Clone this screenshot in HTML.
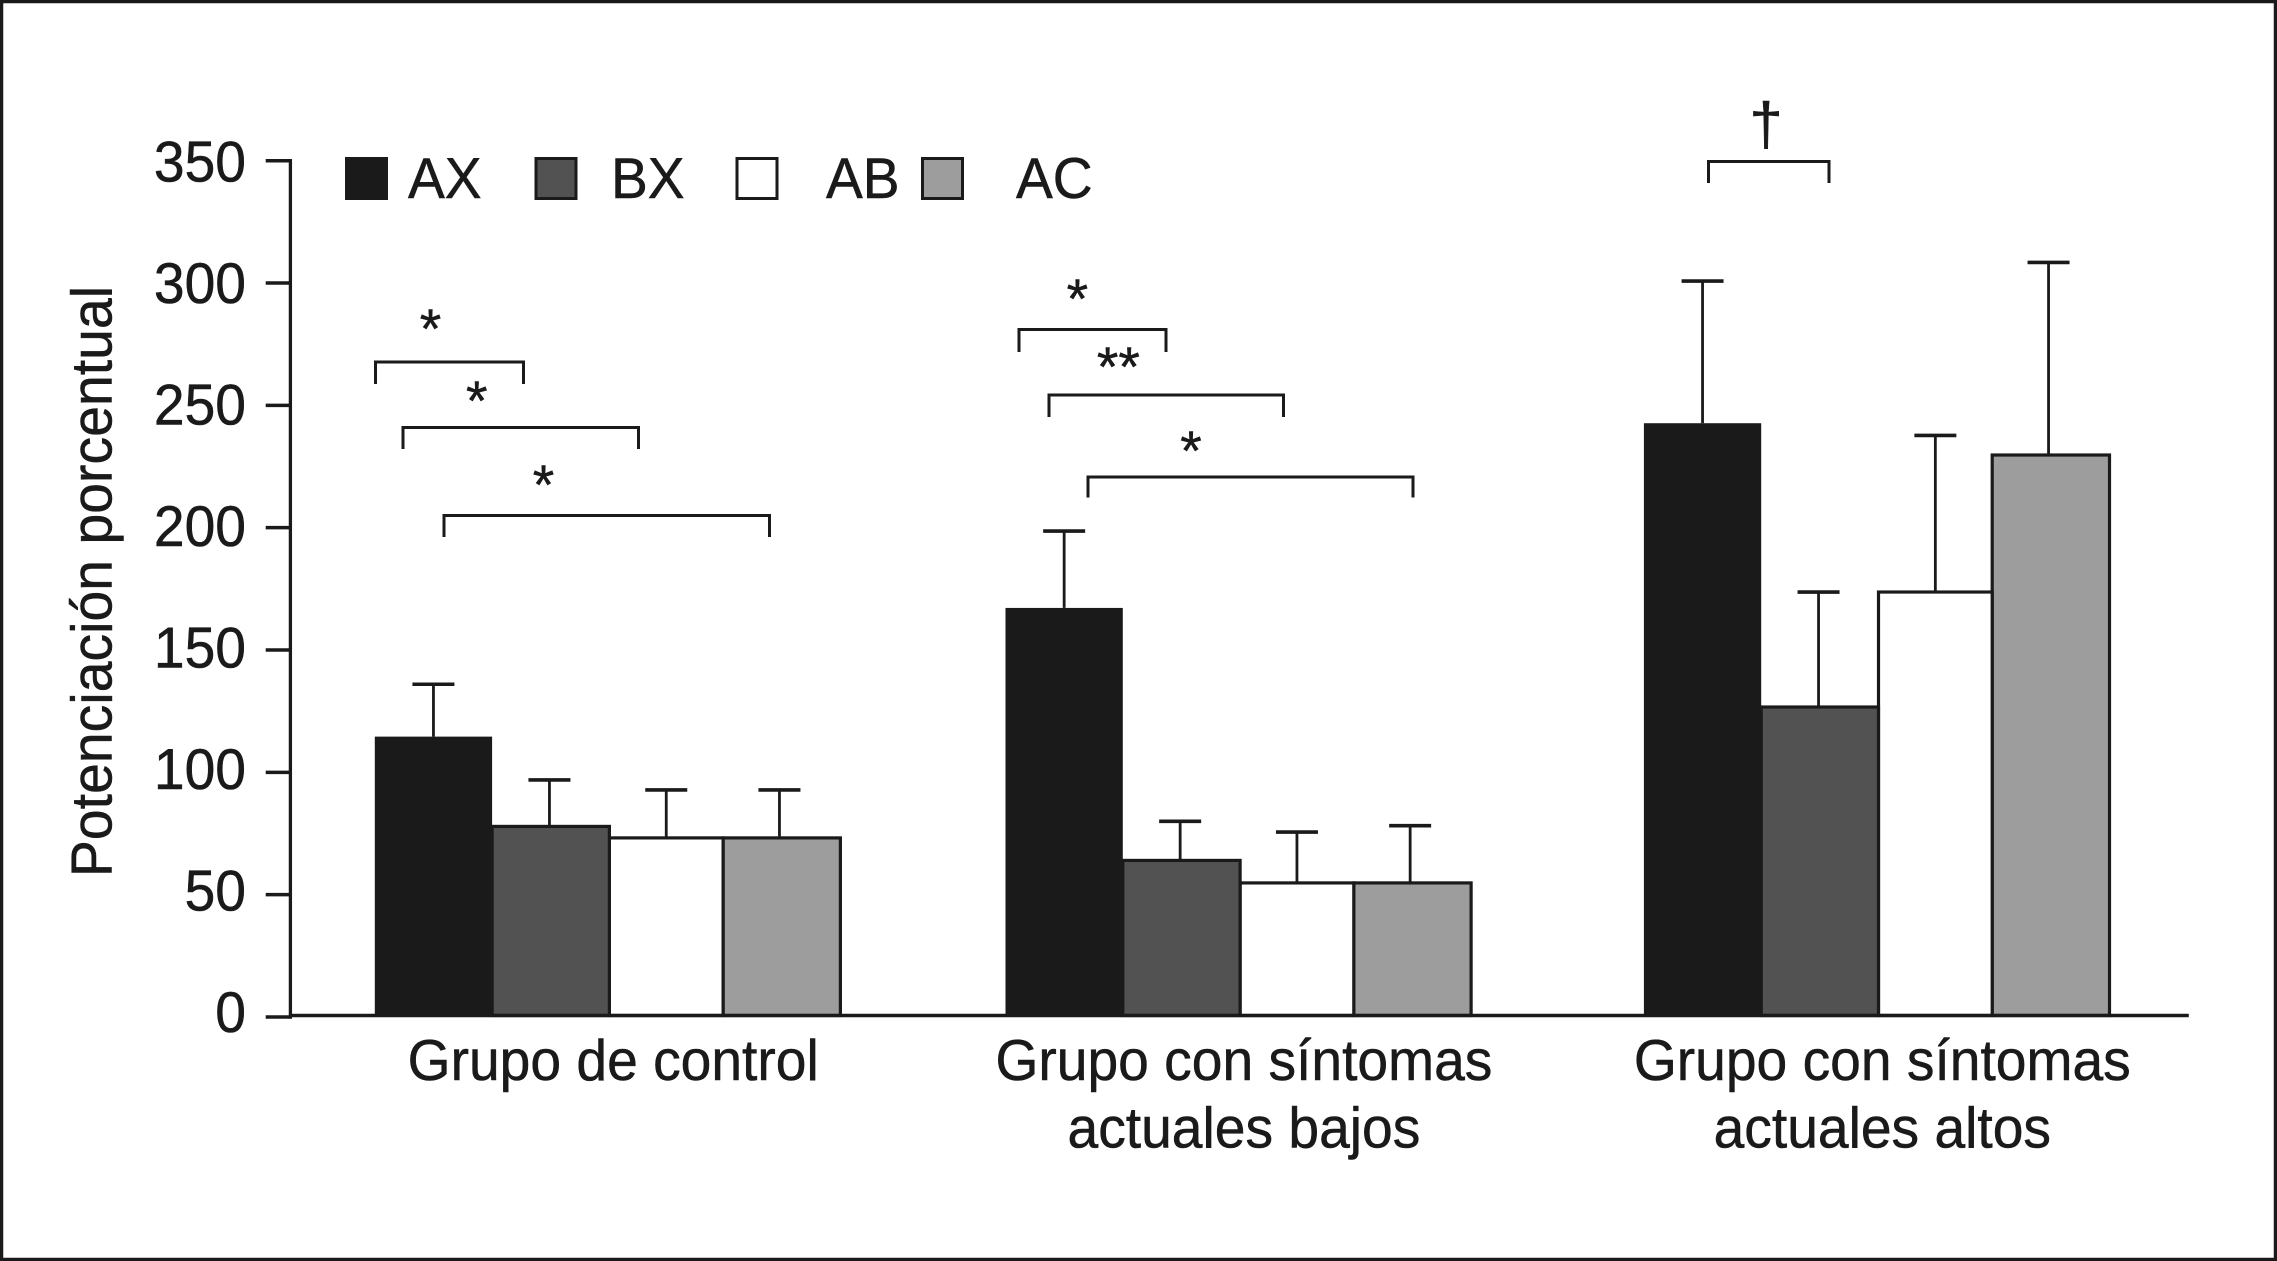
<!DOCTYPE html>
<html lang="es">
<head>
<meta charset="utf-8">
<title>Potenciación porcentual</title>
<style>
html,body{margin:0;padding:0;background:#fff;}
svg{display:block;}
text{font-family:"Liberation Sans",Arial,sans-serif;font-size:55.2px;fill:#1a1a1a;stroke:#1a1a1a;stroke-width:0.5px;}
</style>
</head>
<body>
<svg id="chart" xmlns="http://www.w3.org/2000/svg" width="2277" height="1261" viewBox="0 0 2277 1261">
  <rect x="0" y="0" width="2277" height="1261" fill="#fff"/>
  <rect x="1.6" y="1.6" width="2273.8" height="1257.8" fill="none" stroke="#1a1a1a" stroke-width="3.3"/>

  <g id="plot"></g>

  <text transform="translate(111.5,877) rotate(-90) scale(1,1.04)" textLength="591" lengthAdjust="spacing">Potenciación porcentual</text>

  <g>
    <g>
      <rect x="345" y="157" width="43" height="43" fill="#1a1a1a"/>
      <text transform="translate(408,198) scale(1,1.04)">AX</text>
    </g>
    <g>
      <rect x="536" y="158.5" width="40" height="40" fill="#525252" stroke="#1a1a1a" stroke-width="3"/>
      <text transform="translate(611,198) scale(1,1.04)">BX</text>
    </g>
    <g>
      <rect x="737" y="158.5" width="40" height="40" fill="#fff" stroke="#1a1a1a" stroke-width="3"/>
      <text transform="translate(826,198) scale(1,1.04)">AB</text>
    </g>
    <g>
      <rect x="922.5" y="158.5" width="40" height="40" fill="#9d9d9d" stroke="#1a1a1a" stroke-width="3"/>
      <text transform="translate(1016,198) scale(1,1.04)">AC</text>
    </g>
  </g>

  <g fill="none" stroke="#1a1a1a" stroke-width="3">
    <path d="M375.5 384V362H523.5V384"/>
    <path d="M403 449V427.5H638.5V449"/>
    <path d="M444 537V515.5H769.5V537"/>
    <path d="M1019 352V329.5H1166V352"/>
    <path d="M1049 417V395H1283.5V417"/>
    <path d="M1088 497.5V477H1413V497.5"/>
    <path d="M1708.5 183V161.5H1829V183"/>
  </g>
  <g text-anchor="middle">
    <text x="430.5" y="348">*</text>
    <text x="476.7" y="420">*</text>
    <text x="543.5" y="504">*</text>
    <text x="1077.4" y="318">*</text>
    <text x="1118.4" y="386">**</text>
    <text x="1191" y="470">*</text>
    <text x="1766" y="144.5" style="font-size:60px">†</text>
  </g>
</svg>
<script>
var categories = [["Grupo de control"], ["Grupo con síntomas", "actuales bajos"], ["Grupo con síntomas", "actuales altos"]];
var seriesNames = ["AX", "BX", "AB", "AC"];
var valuesAX = [114.6, 167.2, 242.7];
var valuesBX = [77.9, 64, 126.7];
var valuesAB = [73.2, 54.8, 173.7];
var valuesAC = [73.2, 54.8, 229.7];
var upperAX = [136, 198.6, 300.8];
var upperBX = [96.9, 80, 173.7];
var upperAB = [92.8, 75.6, 237.7];
var upperAC = [92.8, 78.2, 308.4];
var yTicks = [0, 50, 100, 150, 200, 250, 300, 350];
var yTickLabels = ["0", "50", "100", "150", "200", "250", "300", "350"];

var INK = "#1a1a1a";
var seriesValues = [valuesAX, valuesBX, valuesAB, valuesAC];
var seriesUpper = [upperAX, upperBX, upperAB, upperAC];
var seriesFill = ["#1a1a1a", "#525252", "#ffffff", "#9d9d9d"];
var plot = document.getElementById("plot");
var NS = "http://www.w3.org/2000/svg";

function y(v) { return 1017 - v * 2.4466; }
function labelBaseline(v) { return 1032 - v * 2.43; }
function groupLeft(g) { return 374.8 + 630.7 * g + 3.85 * g * (g - 1); }
function barEdge(g, s) { return groupLeft(g) + s * 117.3 - (s >= 3 ? 3.6 : 0); }
function errorX(g, s) {
  var c = (barEdge(g, s) + barEdge(g, s + 1)) / 2;
  return c - (s === 1 ? 1.3 : (s === 3 ? 2.3 : 0));
}
function make(tag, attrs) {
  var el = document.createElementNS(NS, tag);
  for (var k in attrs) { el.setAttribute(k, attrs[k]); }
  plot.appendChild(el);
  return el;
}

var AXIS_BASE = 1015.5;
var axisX = 290.4;
var el;

/* error bars (under the bars) */
for (var s = 0; s < seriesValues.length; s++) {
  for (var g = 0; g < categories.length; g++) {
    var ex = errorX(g, s);
    el = make("line", {x1: ex, x2: ex, y1: y(seriesUpper[s][g]), y2: y(seriesValues[s][g]), stroke: INK, "stroke-width": 2.8});
    
    
    el = make("line", {x1: ex - 21, x2: ex + 21, y1: y(seriesUpper[s][g]), y2: y(seriesUpper[s][g]), stroke: INK, "stroke-width": 3.6});
    
    
  }
}

/* bars: neighbours share one outline, so strokes sit on the slot edges */
for (var s2 = seriesValues.length - 1; s2 >= 0; s2--) {
  for (var g2 = 0; g2 < categories.length; g2++) {
    var left = barEdge(g2, s2);
    var right = barEdge(g2, s2 + 1);
    var top2 = y(seriesValues[s2][g2]);
    if (s2 === 0) {
      el = make("rect", {x: left, y: top2, width: right - left, height: AXIS_BASE - top2, fill: seriesFill[s2]});
    } else {
      el = make("rect", {x: left, y: top2, width: right - left, height: AXIS_BASE - top2, fill: seriesFill[s2], stroke: INK, "stroke-width": 3.2});
    }
    
    
  }
}

/* axes */
el = make("line", {x1: axisX, x2: axisX, y1: y(350) - 1.7, y2: y(0) + 1.7, stroke: INK, "stroke-width": 3.3});


el = make("line", {x1: axisX, x2: 2188.8, y1: AXIS_BASE, y2: AXIS_BASE, stroke: INK, "stroke-width": 3.5});



for (var t = 0; t < yTicks.length; t++) {
  el = make("line", {x1: 265.7, x2: axisX, y1: y(yTicks[t]), y2: y(yTicks[t]), stroke: INK, "stroke-width": 3.5});
  
  
  el = make("text", {transform: "translate(246," + labelBaseline(yTicks[t]) + ") scale(1,1.04)", "text-anchor": "end"});
  el.textContent = yTickLabels[t];
  
  
}

/* category labels */
for (var c = 0; c < categories.length; c++) {
  for (var line = 0; line < categories[c].length; line++) {
    el = make("text", {transform: "translate(" + (groupLeft(c) + 238.4) + "," + (1080 + line * 67.4) + ") scale(1,1.04)", "text-anchor": "middle"});
    el.textContent = categories[c][line];
    
    
  }
}
</script>
</body>
</html>
